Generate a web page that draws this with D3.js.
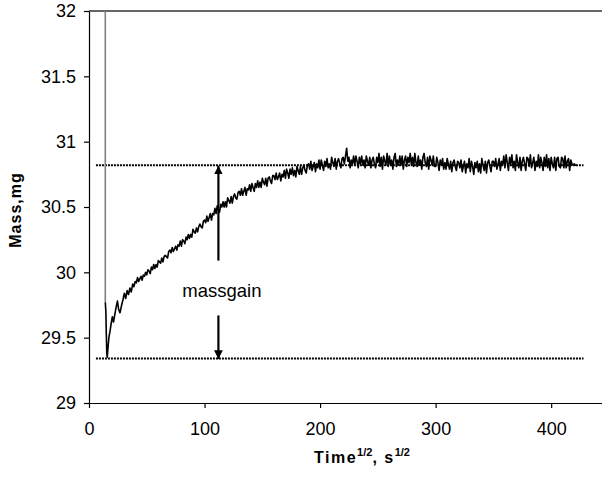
<!DOCTYPE html>
<html>
<head>
<meta charset="utf-8" />
<title>Mass gain</title>
<script src="https://cdnjs.cloudflare.com/ajax/libs/d3/7.8.5/d3.min.js"></script>
<style>
  body { margin: 0; background: #fff; }
  svg { font-family: Arial, "Liberation Sans", sans-serif; }
</style>
</head>
<body>
<svg id="chart" width="602" height="479"></svg>
<script>
// axis ticks
const xTicks = [0, 100, 200, 300, 400]
const xTickLabels = ['0', '100', '200', '300', '400']
const yTicks = [29, 29.5, 30, 30.5, 31, 31.5, 32]
const yTickLabels = ['29', '29.5', '30', '30.5', '31', '31.5', '32']

// grey start trace (sample loading)
const startTime = [14.1, 14.1]
const startMass = [32.0, 29.77]

// first seconds of the measured trace
const earlyTime = [14.1, 14.6, 15.0, 15.4, 15.8, 16.4, 17.2, 18.2, 19.2, 20.2, 21.2, 22.4, 23.6,
  24.6, 25.6, 26.8, 28.0, 29.4, 30.6, 31.8, 33.0, 34.2, 35.4, 36.6, 37.8, 38.8]
const earlyMass = [29.77, 29.70, 29.52, 29.38, 29.35, 29.42, 29.50, 29.55, 29.61, 29.66, 29.62, 29.68, 29.74,
  29.78, 29.72, 29.69, 29.74, 29.79, 29.84, 29.80, 29.86, 29.83, 29.88, 29.85, 29.91, 29.89]

// rest of the trace, one reading per 1 s^1/2 starting at 40
const traceStart = 40
const traceStep = 1
const traceMass = [
  29.93, 29.92, 29.96, 29.93, 29.95, 29.97, 29.94, 29.98, 29.97, 30.00,
  29.98, 30.02, 30.01, 29.99, 30.04, 30.02, 30.06, 30.03, 30.06, 30.04,
  30.09, 30.08, 30.07, 30.11, 30.08, 30.12, 30.13, 30.12, 30.11, 30.16,
  30.17, 30.15, 30.19, 30.16, 30.18, 30.20, 30.17, 30.21, 30.20, 30.24,
  30.20, 30.25, 30.24, 30.22, 30.27, 30.25, 30.29, 30.26, 30.29, 30.27,
  30.33, 30.31, 30.30, 30.34, 30.31, 30.35, 30.37, 30.35, 30.34, 30.39,
  30.40, 30.38, 30.43, 30.39, 30.42, 30.45, 30.40, 30.45, 30.44, 30.49,
  30.45, 30.51, 30.48, 30.46, 30.52, 30.50, 30.54, 30.50, 30.54, 30.50,
  30.57, 30.55, 30.53, 30.58, 30.53, 30.58, 30.60, 30.57, 30.56, 30.61,
  30.62, 30.59, 30.64, 30.59, 30.62, 30.65, 30.59, 30.64, 30.63, 30.67,
  30.62, 30.68, 30.65, 30.62, 30.68, 30.65, 30.70, 30.65, 30.69, 30.65,
  30.72, 30.69, 30.67, 30.72, 30.66, 30.72, 30.73, 30.70, 30.68, 30.74,
  30.74, 30.71, 30.76, 30.71, 30.73, 30.76, 30.70, 30.75, 30.73, 30.78,
  30.72, 30.79, 30.76, 30.72, 30.79, 30.75, 30.80, 30.74, 30.78, 30.73,
  30.81, 30.78, 30.75, 30.81, 30.75, 30.80, 30.82, 30.78, 30.76, 30.82,
  30.83, 30.79, 30.85, 30.78, 30.81, 30.84, 30.77, 30.83, 30.80, 30.86,
  30.79, 30.86, 30.82, 30.78, 30.85, 30.81, 30.87, 30.80, 30.83, 30.79,
  30.88, 30.84, 30.81, 30.87, 30.79, 30.85, 30.87, 30.83, 30.80, 30.87,
  30.88, 30.83, 30.89, 30.95, 30.85, 30.88, 30.80, 30.86, 30.83, 30.89,
  30.82, 30.89, 30.85, 30.80, 30.88, 30.83, 30.89, 30.82, 30.86, 30.80,
  30.89, 30.85, 30.82, 30.88, 30.80, 30.86, 30.88, 30.83, 30.80, 30.88,
  30.84, 30.91, 30.81, 30.88, 30.79, 30.89, 30.85, 30.82, 30.91, 30.81,
  30.89, 30.82, 30.86, 30.79, 30.88, 30.91, 30.81, 30.86, 30.82, 30.89,
  30.82, 30.89, 30.79, 30.86, 30.89, 30.81, 30.88, 30.84, 30.91, 30.82,
  30.88, 30.81, 30.91, 30.84, 30.81, 30.89, 30.82, 30.86, 30.79, 30.88,
  30.91, 30.84, 30.81, 30.88, 30.79, 30.89, 30.86, 30.82, 30.89, 30.81,
  30.81, 30.88, 30.84, 30.78, 30.86, 30.82, 30.87, 30.79, 30.84, 30.79,
  30.87, 30.83, 30.79, 30.85, 30.77, 30.84, 30.86, 30.81, 30.78, 30.85,
  30.84, 30.80, 30.86, 30.77, 30.81, 30.85, 30.76, 30.83, 30.80, 30.87,
  30.77, 30.85, 30.81, 30.75, 30.84, 30.80, 30.85, 30.77, 30.83, 30.76,
  30.87, 30.82, 30.78, 30.85, 30.76, 30.84, 30.86, 30.81, 30.77, 30.85,
  30.85, 30.81, 30.87, 30.79, 30.83, 30.87, 30.78, 30.85, 30.82, 30.89,
  30.80, 30.90, 30.84, 30.78, 30.88, 30.83, 30.90, 30.80, 30.85, 30.78,
  30.90, 30.84, 30.80, 30.88, 30.78, 30.85, 30.88, 30.83, 30.78, 30.88,
  30.87, 30.81, 30.90, 30.80, 30.84, 30.88, 30.78, 30.85, 30.81, 30.90,
  30.80, 30.88, 30.84, 30.78, 30.88, 30.81, 30.90, 30.80, 30.87, 30.78,
  30.88, 30.83, 30.80, 30.88, 30.78, 30.87, 30.88, 30.81, 30.80, 30.88,
  30.87, 30.80, 30.89, 30.80, 30.85, 30.87, 30.78, 30.86, 30.83, 30.82,
  30.83, 30.82, 30.82
]

// dotted reference levels and the mass gain arrows
const levelMass = [30.82, 29.34]
const levelTime = [6, 428]
const arrowTime = 112
const upArrow = [30.09, 30.82]
const downArrow = [29.67, 29.34]
const gainLabel = { text: 'massgain', time: 115, mass: 29.81 }

const svg = d3.select('#chart')

let xScale = d3.scaleLinear().domain([0, 444]).range([89, 602])
let yScale = d3.scaleLinear().domain([29, 32]).range([403, 11])

// arrow head
svg.append('defs').append('marker')
  .attr('id', 'head')
  .attr('viewBox', '0 0 10 10')
  .attr('refX', 10).attr('refY', 5)
  .attr('markerWidth', 4).attr('markerHeight', 5)
  .attr('markerUnits', 'strokeWidth')
  .attr('orient', 'auto')
  .append('path').attr('d', 'M0,0 L10,5 L0,10 Z').attr('fill', '#000')

// frame top line
svg.append('line')
  .attr('x1', xScale(0)).attr('x2', 602)
  .attr('y1', yScale(32)).attr('y2', yScale(32))
  .style('stroke', '#333').style('stroke-width', 1.5)

let xAxis = d3.axisBottom(xScale).tickValues(xTicks)
  .tickFormat((d, i) => xTickLabels[i]).tickSize(5).tickSizeOuter(0).tickPadding(14)
let yAxis = d3.axisLeft(yScale).tickValues(yTicks)
  .tickFormat((d, i) => yTickLabels[i]).tickSize(5).tickSizeOuter(0).tickPadding(8)

svg.append('g').attr('transform', 'translate(0,' + yScale(29) + ')').call(xAxis)
svg.append('g').attr('transform', 'translate(' + xScale(0) + ',0)').call(yAxis)
svg.selectAll('.tick text').style('font-size', '18px').style('fill', '#000')
svg.selectAll('.domain, .tick line').style('stroke', '#000').style('stroke-width', 1.2)

// dotted levels
svg.selectAll('line.level')
  .data(levelMass)
  .enter()
  .append('line')
  .attr('class', 'level')
  .attr('x1', xScale(levelTime[0])).attr('x2', xScale(levelTime[1]))
  .attr('y1', d => yScale(d)).attr('y2', d => yScale(d))
  .style('stroke', '#000').style('stroke-width', 2)
  .style('stroke-dasharray', '2,1')

let line = d3.line().x(d => xScale(d[0])).y(d => yScale(d[1]))

svg.append('path')
  .datum(startTime.map((t, i) => [t, startMass[i]]))
  .attr('d', line)
  .style('fill', 'none').style('stroke', '#808080').style('stroke-width', 1.6)

let trace = earlyTime.map((t, i) => [t, earlyMass[i]])
  .concat(traceMass.map((m, i) => [traceStart + i * traceStep, m]))

svg.append('path')
  .datum(trace)
  .attr('d', line)
  .style('fill', 'none').style('stroke', '#000').style('stroke-width', 1.6)
  .style('stroke-linejoin', 'round')

// arrows
svg.selectAll('line.arrow')
  .data([upArrow, downArrow])
  .enter()
  .append('line')
  .attr('class', 'arrow')
  .attr('x1', xScale(arrowTime)).attr('x2', xScale(arrowTime))
  .attr('y1', d => yScale(d[0])).attr('y2', d => yScale(d[1]) + 0.5)
  .style('stroke', '#000').style('stroke-width', 2.2)
  .attr('marker-end', 'url(#head)')

svg.append('text')
  .attr('x', xScale(gainLabel.time)).attr('y', yScale(gainLabel.mass))
  .attr('text-anchor', 'middle')
  .style('font-size', '18.5px')
  .text(gainLabel.text)

// axis titles
svg.append('text')
  .attr('transform', 'translate(21,210) rotate(-90)')
  .attr('text-anchor', 'middle')
  .style('font-size', '16px').style('font-weight', 'bold').style('letter-spacing', '1px')
  .text('Mass,mg')

let xt = svg.append('text')
  .attr('x', 362).attr('y', 463)
  .attr('text-anchor', 'middle')
  .style('font-size', '16px').style('font-weight', 'bold').style('letter-spacing', '1.5px')
xt.append('tspan').text('Time')
xt.append('tspan').attr('dy', -7).style('font-size', '11px').style('letter-spacing', '0px').text('1/2')
xt.append('tspan').attr('dy', 7).text(', s')
xt.append('tspan').attr('dy', -7).style('font-size', '11px').style('letter-spacing', '0px').text('1/2')
</script>
</body>
</html>
